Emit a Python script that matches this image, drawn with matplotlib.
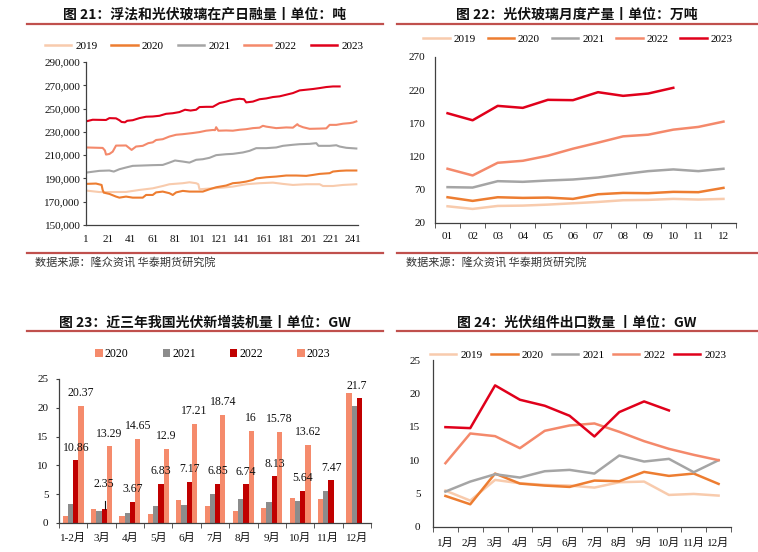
import numpy as np
import matplotlib
matplotlib.use("Agg")
import matplotlib.pyplot as plt
from matplotlib.lines import Line2D
from matplotlib.patches import Patch
from matplotlib.ticker import FuncFormatter

# ---------------- data ----------------
years5 = ["2019", "2020", "2021", "2022", "2023"]
years4 = ["2020", "2021", "2022", "2023"]

# Panel 1: daily melt capacity (tons), read at selected days
d19 = [1, 13, 25, 37, 49, 61, 70, 76, 88, 94, 100, 102, 103, 106, 115, 124, 133, 145, 157, 169, 178, 187, 199, 211, 214, 223, 232, 244]
v19 = [179.6, 178.3, 178.3, 178.4, 180.1, 181.5, 183.5, 185.0, 185.9, 186.7, 185.9, 185.0, 180.7, 180.9, 181.5, 182.1, 183.0, 185.0, 185.9, 186.4, 185.3, 184.4, 185.0, 185.0, 183.5, 183.5, 184.4, 185.0]
d20 = [1, 10, 15, 16, 17, 22, 28, 31, 37, 43, 52, 55, 61, 64, 70, 76, 79, 82, 88, 94, 100, 106, 112, 118, 127, 133, 139, 145, 151, 154, 163, 172, 181, 190, 199, 205, 211, 220, 223, 229, 235, 244]
v20 = [185.3, 185.6, 184.4, 180.0, 177.8, 176.7, 174.4, 173.5, 174.4, 173.5, 173.5, 175.8, 175.8, 178.0, 178.7, 177.3, 175.8, 178.0, 179.3, 178.7, 178.7, 178.7, 180.7, 182.4, 183.9, 185.9, 186.4, 187.3, 188.7, 190.0, 191.0, 191.6, 192.5, 192.5, 192.2, 193.0, 193.9, 194.5, 195.9, 196.5, 196.8, 196.8]
d21 = [1, 13, 22, 26, 31, 37, 43, 52, 61, 70, 76, 81, 88, 94, 100, 106, 112, 118, 127, 133, 142, 148, 154, 163, 172, 178, 187, 193, 202, 208, 210, 220, 226, 229, 235, 244]
v21 = [195.0, 196.5, 196.8, 195.9, 197.9, 199.4, 200.8, 201.1, 201.4, 201.6, 203.6, 205.4, 204.5, 203.6, 206.0, 206.5, 207.7, 210.0, 210.8, 211.1, 212.3, 213.7, 216.0, 216.0, 216.6, 218.0, 218.9, 219.4, 219.7, 220.3, 218.0, 218.0, 218.5, 217.4, 216.3, 215.7]
d22 = [1, 16, 18, 19, 22, 25, 28, 37, 40, 42, 46, 52, 57, 61, 64, 70, 76, 82, 88, 97, 103, 109, 115, 117, 118, 120, 127, 133, 139, 145, 151, 157, 160, 163, 172, 181, 187, 191, 192, 196, 202, 211, 217, 220, 226, 232, 238, 241, 244]
v22 = [216.6, 216.2, 214.0, 210.5, 211.0, 213.0, 218.2, 218.3, 216.0, 214.5, 217.4, 218.0, 220.3, 221.0, 223.0, 223.7, 226.0, 227.5, 228.0, 229.0, 229.8, 231.0, 231.6, 231.5, 234.0, 231.0, 231.2, 231.0, 231.8, 232.3, 233.2, 233.6, 235.2, 234.5, 233.2, 233.8, 233.6, 236.6, 235.5, 234.0, 232.6, 232.8, 233.0, 236.0, 236.0, 237.0, 237.5, 238.0, 239.0]
d23 = [1, 7, 19, 22, 28, 31, 33, 36, 38, 43, 49, 55, 61, 67, 73, 79, 85, 90, 95, 100, 103, 109, 115, 121, 127, 133, 139, 143, 145, 151, 157, 163, 169, 175, 181, 187, 193, 199, 205, 211, 217, 223, 229]
v23 = [239.0, 240.4, 240.2, 241.8, 241.6, 240.0, 238.5, 238.2, 239.5, 240.0, 241.8, 243.0, 243.2, 243.8, 245.5, 246.0, 247.0, 249.0, 248.3, 249.0, 251.3, 251.5, 251.5, 254.7, 256.0, 257.6, 258.4, 258.0, 255.3, 256.0, 258.0, 258.7, 259.9, 260.5, 261.9, 263.3, 265.6, 266.2, 266.8, 267.6, 268.5, 269.0, 269.0]
p1_xticks = [1, 21, 41, 61, 81, 101, 121, 141, 161, 181, 201, 221, 241]

# Panel 2: monthly PV glass output (10k tons)
months2 = ["01", "02", "03", "04", "05", "06", "07", "08", "09", "10", "11", "12"]
m19 = [45.2, 41.2, 45.7, 46.2, 47.7, 49.7, 51.7, 54.3, 54.8, 56.3, 55.3, 56.3]
m20 = [58.8, 53.3, 58.8, 57.8, 58.3, 56.3, 63.3, 65.3, 64.9, 66.9, 66.4, 72.9]
m21 = [74.0, 73.4, 83.0, 82.0, 84.0, 85.5, 88.5, 93.6, 98.1, 100.7, 98.1, 101.7]
m22 = [101.7, 91.6, 110.7, 113.7, 121.3, 131.9, 141.0, 150.5, 153.0, 160.6, 164.7, 172.7]
m23 = [185.3, 174.7, 196.4, 193.4, 205.5, 205.0, 217.0, 211.5, 215.0, 223.6]

# Panel 3: new PV installations (GW)
cats3 = ["1-2月", "3月", "4月", "5月", "6月", "7月", "8月", "9月", "10月", "11月", "12月"]
inst20 = [1.16, 2.4, 1.16, 1.6, 4.05, 3.0, 2.1, 2.55, 4.3, 4.1, 22.5]
inst21 = [3.3, 2.15, 1.8, 2.9, 3.15, 5.0, 4.2, 3.6, 3.8, 5.6, 20.3]
inst22 = [10.86, 2.35, 3.67, 6.83, 7.17, 6.85, 6.74, 8.13, 5.64, 7.47, 21.7]
inst23 = [20.37, 13.29, 14.65, 12.9, 17.21, 18.74, 16, 15.78, 13.62, np.nan, np.nan]
lab22 = ["10.86", "2.35", "3.67", "6.83", "7.17", "6.85", "6.74", "8.13", "5.64", "7.47", "21.7"]
lab23 = ["20.37", "13.29", "14.65", "12.9", "17.21", "18.74", "16", "15.78", "13.62", "", ""]

# Panel 4: PV module exports (GW)
months4 = ["1月", "2月", "3月", "4月", "5月", "6月", "7月", "8月", "9月", "10月", "11月", "12月"]
e19 = [5.45, 3.95, 7.05, 6.55, 6.3, 6.2, 5.9, 6.7, 6.8, 4.8, 4.95, 4.7]
e20 = [4.65, 3.4, 8.0, 6.5, 6.2, 6.0, 6.95, 6.85, 8.25, 7.65, 8.0, 6.45]
e21 = [5.3, 6.8, 7.9, 7.4, 8.35, 8.55, 8.0, 10.7, 9.8, 10.2, 8.2, 10.0]
e22 = [9.55, 14.0, 13.6, 11.8, 14.4, 15.2, 15.5, 14.25, 12.85, 11.7, 10.8, 10.0]
e23 = [14.95, 14.8, 21.2, 19.05, 18.15, 16.65, 13.55, 17.2, 18.8, 17.45]

# ---------------- style ----------------
C19, C20, C21, C22, C23 = "#F8CBAD", "#ED7D31", "#A5A5A5", "#F4896B", "#E0001B"
LINE_COLORS = [C19, C20, C21, C22, C23]
BAR_COLORS = ["#F58B6C", "#8C8C8C", "#C00000", "#F58B6C"]
RULE = "#C0504D"
SPINE = "#404040"
SERIF = ["Liberation Serif", "Noto Sans CJK SC"]
CJK = ["Noto Sans CJK SC", "DejaVu Sans"]

W, H = 758, 552
fig = plt.figure(figsize=(W / 100, H / 100), dpi=100)


def rect(l, r, t, b):
    return [l / W, 1 - b / H, (r - l) / W, (b - t) / H]


def fx(x):
    return x / W


def fy(y):
    return 1 - y / H


def rule(x0, x1, y):
    fig.add_artist(Line2D([fx(x0), fx(x1)], [fy(y), fy(y)], color=RULE, lw=1.6,
                          transform=fig.transFigure))


def title(x, y, s):
    fig.text(fx(x), fy(y), s, ha="center", va="center", fontsize=10,
             fontweight="bold", family=CJK, color="#111111")


def source(x, y):
    fig.text(fx(x), fy(y), "数据来源：隆众资讯 华泰期货研究院", ha="left", va="center",
             fontsize=8, family=CJK, color="#333333")


def style_axes(ax):
    for s in ["top", "right"]:
        ax.spines[s].set_visible(False)
    for s in ["left", "bottom"]:
        ax.spines[s].set_color(SPINE)
        ax.spines[s].set_linewidth(0.9)
    for lab in ax.get_xticklabels() + ax.get_yticklabels():
        lab.set_family(SERIF)
        lab.set_fontsize(8)
        lab.set_color("#111111")


def line_legend(ax, cx, cy, colors, labels, lw, colsp):
    handles = [Line2D([0], [0], color=c, lw=lw) for c in colors]
    ax.legend(handles, labels, ncol=len(labels), loc="center",
              bbox_to_anchor=(fx(cx), fy(cy)), bbox_transform=fig.transFigure,
              frameon=False, handlelength=2.4, handletextpad=0.35,
              columnspacing=colsp, prop={"family": SERIF, "size": 8})


def cat_ticks(ax, labels, pad):
    n = len(labels)
    ax.set_xlim(-0.5, n - 0.5)
    ax.set_xticks(np.arange(n))
    ax.set_xticklabels(labels)
    ax.set_xticks(np.arange(-0.5, n, 1), minor=True)
    ax.tick_params(axis="x", which="major", length=0, pad=pad)
    ax.tick_params(axis="x", which="minor", length=3.5, direction="out", color=SPINE)


# ---------------- panel 1 ----------------
title(205, 15, "图 21：浮法和光伏玻璃在产日融量丨单位：吨")
rule(27, 383, 24)
ax1 = fig.add_axes(rect(86, 358, 62, 225))
for d, v, c in zip([d19, d20, d21, d22, d23], [v19, v20, v21, v22, v23], LINE_COLORS):
    ax1.plot(d, np.array(v) * 1000, color=c, lw=1.5)
ax1.set_xlim(1, 245.5)
ax1.set_ylim(150000, 290000)
ax1.set_yticks(np.arange(150000, 290001, 20000))
ax1.yaxis.set_major_formatter(FuncFormatter(lambda v, p: f"{int(v):,}"))
ax1.set_xticks(p1_xticks)
ax1.tick_params(axis="x", length=0, pad=7)
ax1.tick_params(axis="y", length=2.5, pad=1.5, color=SPINE)
style_axes(ax1)
line_legend(ax1, 204, 46, LINE_COLORS, years5, 1.8, 1.25)
rule(27, 383, 253)
source(35, 262)

# ---------------- panel 2 ----------------
title(577, 15, "图 22：光伏玻璃月度产量丨单位：万吨")
rule(397, 758, 24)
ax2 = fig.add_axes(rect(435, 736, 57, 223))
x12 = np.arange(12)
for vals, c in zip([m19, m20, m21, m22, m23], LINE_COLORS):
    ax2.plot(x12[:len(vals)], vals, color=c, lw=1.8)
ax2.set_ylim(20, 270)
ax2.set_yticks(np.arange(20, 271, 50))
cat_ticks(ax2, months2, 6.5)
ax2.tick_params(axis="y", length=0, pad=7)
style_axes(ax2)
line_legend(ax2, 578, 39, LINE_COLORS, years5, 1.8, 1.05)
rule(397, 758, 253)
source(406, 262)

# ---------------- panel 3 ----------------
title(205, 322, "图 23：近三年我国光伏新增装机量丨单位：GW")
rule(27, 383, 331)
ax3 = fig.add_axes(rect(59, 371, 379, 523))
x11 = np.arange(len(cats3))
bw = 0.185
for k, (vals, c) in enumerate(zip([inst20, inst21, inst22, inst23], BAR_COLORS)):
    ax3.bar(x11 + (k - 1.5) * bw, vals, width=bw, color=c, edgecolor="none")
for i in range(len(cats3)):
    xb = x11[i] + 0.5 * bw
    if i == 1:
        ax3.text(xb, inst22[i] + 4.5, lab22[i], ha="center", va="center",
                 fontsize=8.5, family=SERIF, color="#111111")
        ax3.plot([xb + 0.02, xb + 0.02], [inst22[i], inst22[i] + 1.4], color="#111111", lw=0.8)
    else:
        ax3.text(xb - (0.08 if i == 10 else 0), inst22[i] + 2.15, lab22[i], ha="center",
                 va="center", fontsize=8.5, family=SERIF, color="#111111")
    if lab23[i]:
        ax3.text(x11[i] + 1.5 * bw, inst23[i] + 2.2, lab23[i], ha="center", va="center",
                 fontsize=8.5, family=SERIF, color="#111111")
ax3.set_ylim(0, 25)
ax3.set_yticks(np.arange(0, 26, 5))
cat_ticks(ax3, cats3, 7)
ax3.tick_params(axis="y", length=2.5, pad=5, color=SPINE)
style_axes(ax3)
bar_handles = [Patch(facecolor=c, edgecolor="none") for c in BAR_COLORS]
ax3.legend(bar_handles, years4, ncol=4, loc="center",
           bbox_to_anchor=(fx(213), fy(354)), bbox_transform=fig.transFigure,
           frameon=False, handlelength=0.6, handleheight=0.6, handletextpad=0.2,
           columnspacing=2.9, prop={"family": SERIF, "size": 8.5})

# ---------------- panel 4 ----------------
title(577, 322, "图 24：光伏组件出口数量 丨单位：GW")
rule(397, 758, 331)
ax4 = fig.add_axes(rect(433, 731, 360, 527))
for vals, c in zip([e19, e20, e21, e22, e23], LINE_COLORS):
    ax4.plot(x12[:len(vals)], vals, color=c, lw=1.8)
ax4.set_ylim(0, 25)
ax4.set_yticks(np.arange(0, 26, 5))
cat_ticks(ax4, months4, 8)
ax4.tick_params(axis="y", length=0, pad=9)
style_axes(ax4)
line_legend(ax4, 578, 355, LINE_COLORS, years5, 1.8, 0.75)

fig.savefig("out.png", dpi=100)
